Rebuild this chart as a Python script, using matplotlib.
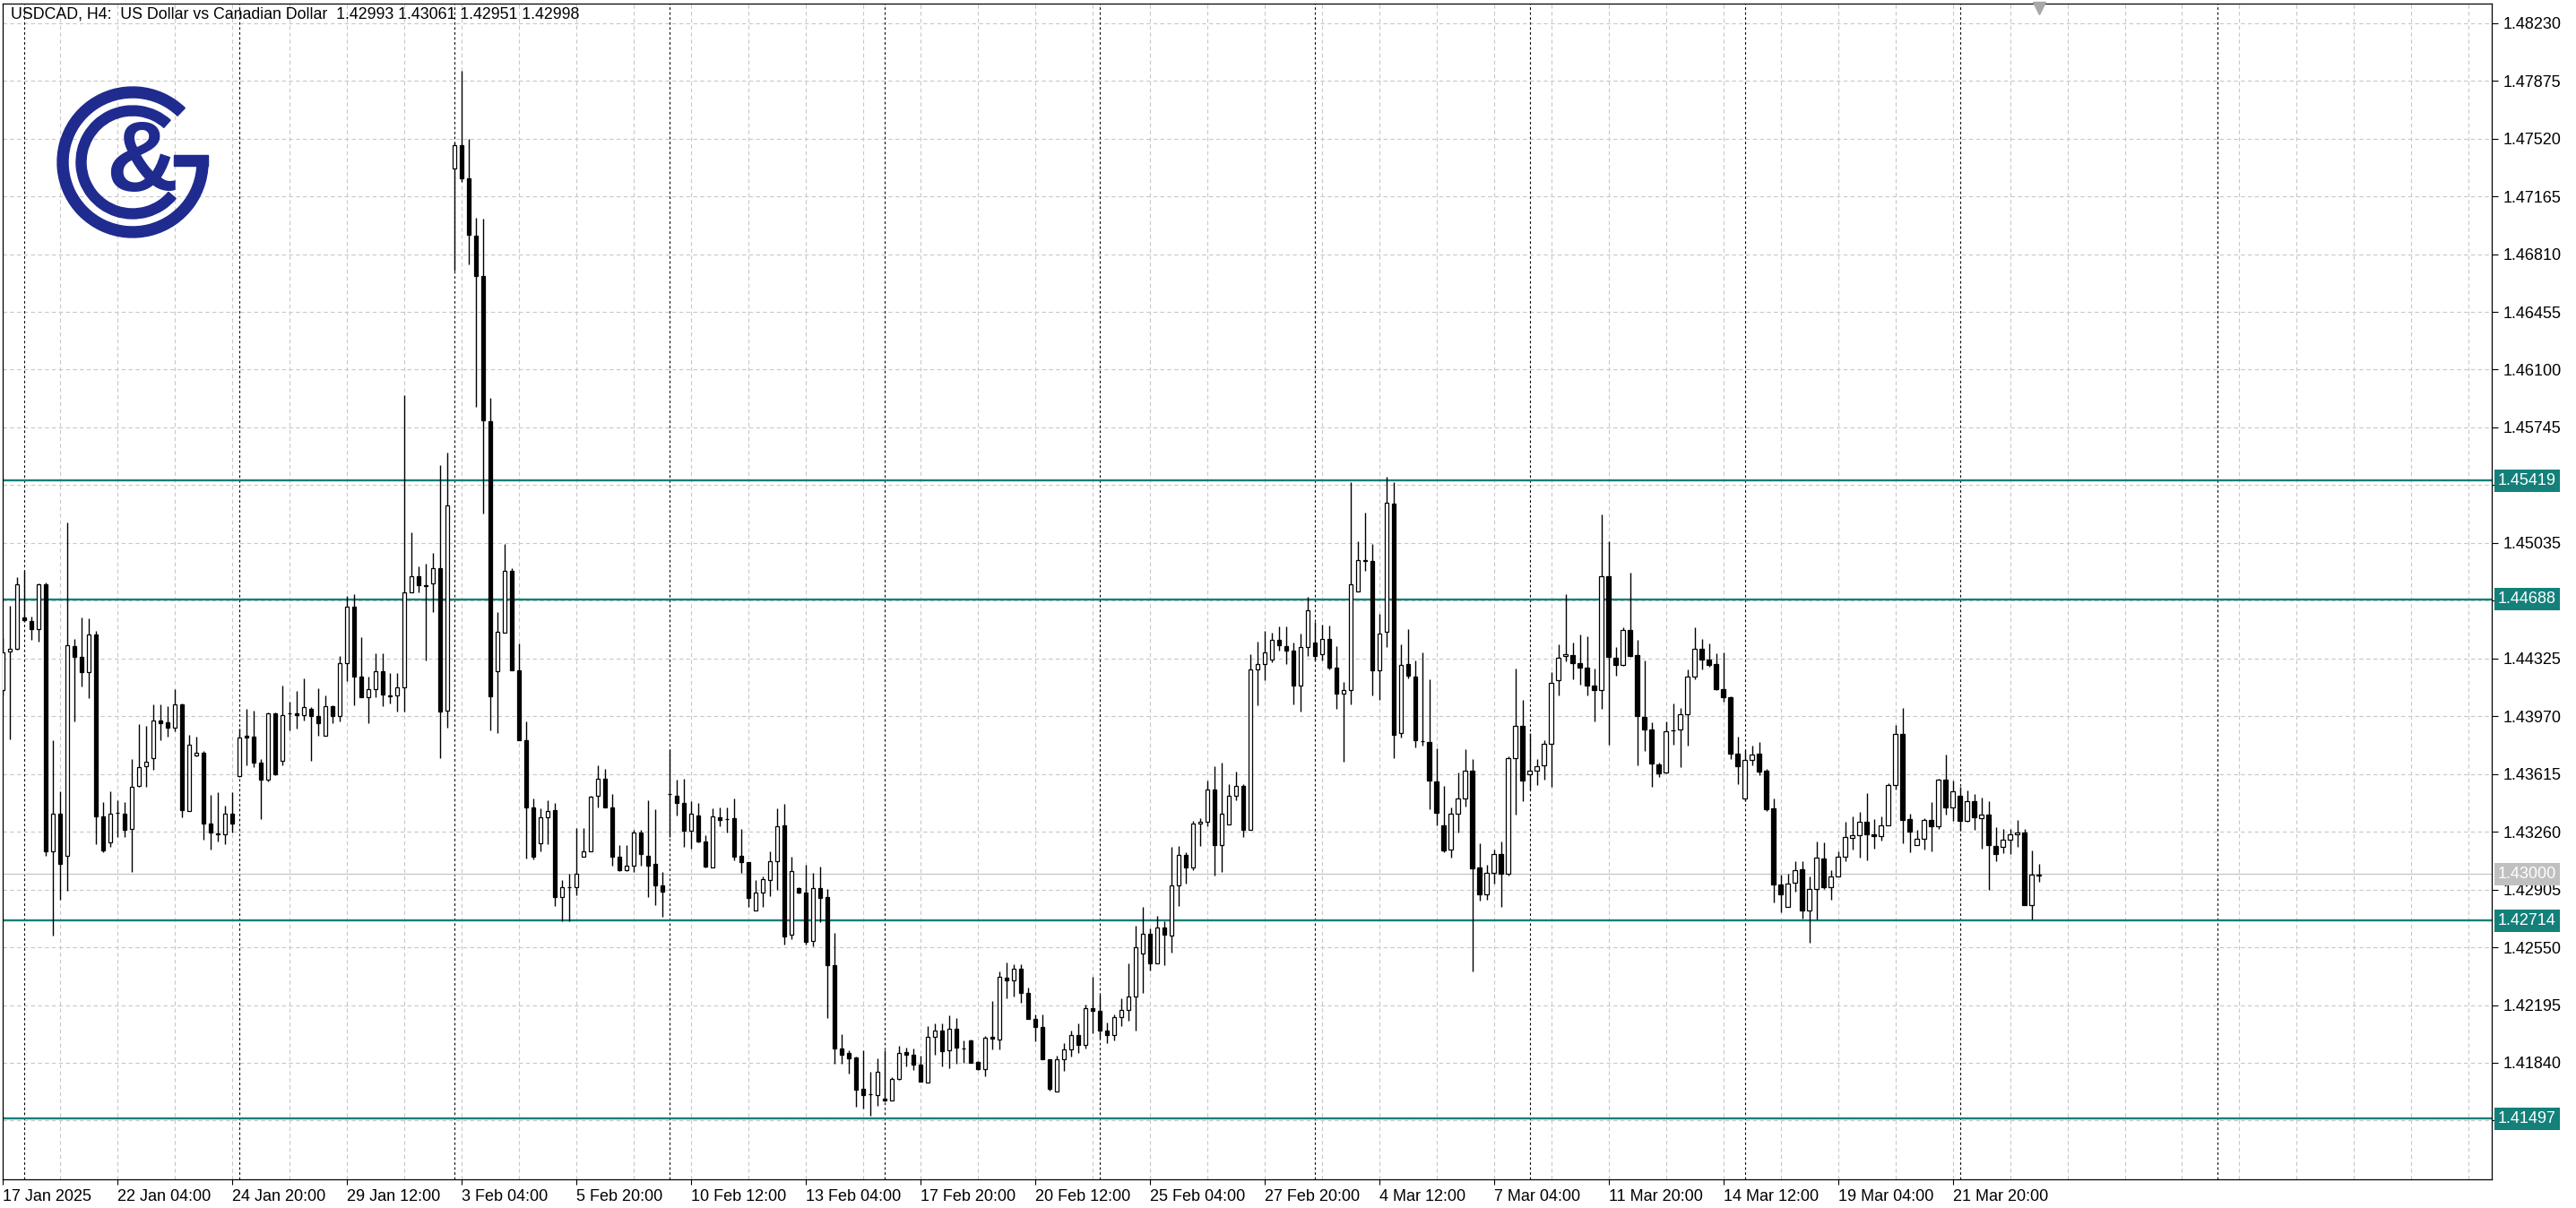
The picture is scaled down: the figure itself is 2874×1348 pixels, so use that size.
import matplotlib
matplotlib.use("Agg")
import matplotlib.pyplot as plt
from matplotlib.patches import Wedge, Rectangle
import matplotlib.transforms as mtransforms

plt.rcParams['font.family'] = ['Liberation Sans', 'DejaVu Sans']

title = "USDCAD, H4:  US Dollar vs Canadian Dollar  1.42993 1.43061 1.42951 1.42998"

# H4 candles, index 0 = 17 Jan 2025 12:00
opens = [
    1.44131, 1.44367, 1.44384, 1.44576, 1.44556, 1.44503, 1.44781, 1.43142, 1.43373, 1.43110,
    1.44399, 1.44333, 1.44242, 1.44471, 1.43354, 1.43195, 1.43374, 1.43373, 1.43280, 1.43543,
    1.43662, 1.43713, 1.43943, 1.43934, 1.43898, 1.44043, 1.43388, 1.43728, 1.43747, 1.43312,
    1.43252, 1.43242, 1.43373, 1.43605, 1.43849, 1.43845, 1.43686, 1.43581, 1.43989, 1.43696,
    1.43987, 1.43987, 1.43977, 1.44015, 1.43974, 1.43851, 1.44034, 1.43970, 1.44295, 1.44645,
    1.44216, 1.44086, 1.44139, 1.44244, 1.44099, 1.44096, 1.44146, 1.44734, 1.44832, 1.44776,
    1.44786, 1.44881, 1.44006, 1.47334, 1.47481, 1.47278, 1.46921, 1.46676, 1.45784, 1.44244,
    1.44482, 1.44863, 1.44251, 1.43824, 1.43411, 1.43187, 1.43348, 1.43393, 1.42861, 1.42921,
    1.42921, 1.43106, 1.43141, 1.43481, 1.43586, 1.43411, 1.43106, 1.43026, 1.43054, 1.43253,
    1.43114, 1.43061, 1.42931, 1.43491, 1.43481, 1.43439, 1.43264, 1.43362, 1.43201, 1.43039,
    1.43351, 1.43338, 1.43342, 1.43112, 1.43072, 1.42778, 1.42885, 1.42966, 1.43081, 1.43298,
    1.42626, 1.42916, 1.42885, 1.42589, 1.42916, 1.42857, 1.42442, 1.41928, 1.41901, 1.41873,
    1.41680, 1.41647, 1.41644, 1.41618, 1.41607, 1.41741, 1.41904, 1.41888, 1.41827, 1.41717,
    1.41998, 1.42040, 1.41915, 1.42048, 1.41930, 1.41976, 1.41846, 1.41800, 1.41998, 1.41985,
    1.42365, 1.42347, 1.42420, 1.42268, 1.42112, 1.42062, 1.41860, 1.41664, 1.41860, 1.41920,
    1.42010, 1.41950, 1.42178, 1.42160, 1.42040, 1.42010, 1.42121, 1.42166, 1.42246, 1.42514,
    1.42632, 1.42450, 1.42673, 1.42621, 1.42928, 1.43117, 1.43042, 1.43310, 1.43321, 1.43519,
    1.43178, 1.43303, 1.43481, 1.43542, 1.43274, 1.44258, 1.44292, 1.44320, 1.44440, 1.44402,
    1.44372, 1.44156, 1.44395, 1.44422, 1.44349, 1.44447, 1.44270, 1.44110, 1.44133, 1.44736,
    1.44929, 1.44925, 1.44254, 1.44490, 1.45277, 1.43865, 1.44289, 1.44215, 1.43817, 1.43813,
    1.43567, 1.43302, 1.43149, 1.43372, 1.43462, 1.43637, 1.43043, 1.42875, 1.43009, 1.43125,
    1.43003, 1.43711, 1.43912, 1.43613, 1.43633, 1.43667, 1.43803, 1.44189, 1.44339, 1.44345,
    1.44299, 1.44271, 1.44156, 1.44132, 1.44830, 1.44331, 1.44285, 1.44499, 1.44345, 1.43966,
    1.43886, 1.43673, 1.43627, 1.43882, 1.43886, 1.43980, 1.44215, 1.44385, 1.44319, 1.44289,
    1.44136, 1.44086, 1.43741, 1.43462, 1.43701, 1.43742, 1.43636, 1.43402, 1.42938, 1.42797,
    1.42949, 1.43032, 1.42778, 1.42907, 1.43094, 1.42921, 1.42984, 1.43109, 1.43224, 1.43237,
    1.43320, 1.43243, 1.43232, 1.43302, 1.43546, 1.43862, 1.43338, 1.43177, 1.43215, 1.43335,
    1.43296, 1.43581, 1.43408, 1.43480, 1.43325, 1.43448, 1.43342, 1.43366, 1.43173, 1.43167,
    1.43210, 1.43243, 1.43256, 1.42811, 1.42993,
]
highs = [
    1.44450, 1.44650, 1.44824, 1.44862, 1.44582, 1.44786, 1.44790, 1.43822, 1.43509, 1.45159,
    1.44446, 1.44578, 1.44573, 1.44493, 1.43444, 1.43511, 1.43454, 1.43441, 1.43709, 1.43921,
    1.43911, 1.44045, 1.44045, 1.44030, 1.44138, 1.44050, 1.43856, 1.43847, 1.43756, 1.43488,
    1.43501, 1.43422, 1.43501, 1.43894, 1.44017, 1.44006, 1.43705, 1.43993, 1.43995, 1.44159,
    1.44059, 1.44125, 1.44204, 1.44027, 1.44140, 1.44097, 1.44040, 1.44342, 1.44711, 1.44720,
    1.44454, 1.44216, 1.44356, 1.44356, 1.44233, 1.44233, 1.45941, 1.45101, 1.44891, 1.44909,
    1.44972, 1.45511, 1.45591, 1.47498, 1.47936, 1.47516, 1.47033, 1.47026, 1.45924, 1.44611,
    1.45031, 1.44881, 1.44419, 1.43936, 1.43463, 1.43404, 1.43456, 1.43439, 1.42966, 1.43001,
    1.43281, 1.43281, 1.43481, 1.43666, 1.43649, 1.43491, 1.43176, 1.43176, 1.43271, 1.43271,
    1.43456, 1.43396, 1.43012, 1.43761, 1.43579, 1.43586, 1.43446, 1.43439, 1.43237, 1.43406,
    1.43412, 1.43412, 1.43467, 1.43278, 1.43072, 1.42962, 1.42984, 1.43140, 1.43406, 1.43430,
    1.43109, 1.42920, 1.43057, 1.43008, 1.43048, 1.42907, 1.42641, 1.42016, 1.41915, 1.41880,
    1.41915, 1.41787, 1.41869, 1.41915, 1.41750, 1.41943, 1.41934, 1.41930, 1.41882, 1.42066,
    1.42084, 1.42084, 1.42132, 1.42114, 1.41980, 1.41985, 1.41850, 1.42007, 1.42218, 1.42402,
    1.42457, 1.42444, 1.42448, 1.42305, 1.42136, 1.42136, 1.41860, 1.41882, 1.41960, 1.42040,
    1.42080, 1.42200, 1.42371, 1.42257, 1.42090, 1.42140, 1.42234, 1.42450, 1.42682, 1.42796,
    1.42666, 1.42741, 1.42712, 1.43167, 1.43174, 1.43133, 1.43326, 1.43342, 1.43576, 1.43662,
    1.43683, 1.43553, 1.43628, 1.43553, 1.44349, 1.44429, 1.44492, 1.44481, 1.44520, 1.44524,
    1.44424, 1.44479, 1.44706, 1.44547, 1.44531, 1.44527, 1.44399, 1.44183, 1.45407, 1.45047,
    1.45220, 1.45031, 1.44599, 1.45441, 1.45411, 1.44411, 1.44505, 1.44311, 1.44365, 1.44195,
    1.43773, 1.43541, 1.43412, 1.43627, 1.43767, 1.43707, 1.43188, 1.43059, 1.43149, 1.43198,
    1.43721, 1.44265, 1.44072, 1.43866, 1.43707, 1.43821, 1.44239, 1.44411, 1.44720, 1.44425,
    1.44471, 1.44459, 1.44265, 1.45212, 1.45043, 1.44395, 1.44519, 1.44850, 1.44439, 1.44315,
    1.43932, 1.43687, 1.43936, 1.44046, 1.44020, 1.44255, 1.44515, 1.44445, 1.44415, 1.44355,
    1.44365, 1.44090, 1.43847, 1.43761, 1.43787, 1.43812, 1.43645, 1.43463, 1.42999, 1.43002,
    1.43081, 1.43081, 1.42986, 1.43201, 1.43195, 1.43026, 1.43140, 1.43320, 1.43353, 1.43384,
    1.43498, 1.43338, 1.43357, 1.43559, 1.43917, 1.44021, 1.43371, 1.43274, 1.43344, 1.43443,
    1.43586, 1.43737, 1.43577, 1.43535, 1.43513, 1.43491, 1.43470, 1.43448, 1.43287, 1.43278,
    1.43280, 1.43335, 1.43278, 1.43146, 1.43061,
]
lows = [
    1.44100, 1.43828, 1.44380, 1.44550, 1.44437, 1.44431, 1.43114, 1.42622, 1.42840, 1.42900,
    1.43940, 1.44153, 1.44081, 1.43184, 1.43133, 1.43170, 1.43227, 1.43227, 1.43015, 1.43535,
    1.43539, 1.43643, 1.43822, 1.43845, 1.43875, 1.43350, 1.43385, 1.43725, 1.43212, 1.43151,
    1.43199, 1.43184, 1.43255, 1.43599, 1.43666, 1.43656, 1.43340, 1.43567, 1.43610, 1.43671,
    1.43883, 1.43894, 1.43945, 1.43694, 1.43851, 1.43851, 1.43926, 1.43940, 1.44185, 1.44040,
    1.44086, 1.43929, 1.44086, 1.44034, 1.44051, 1.43999, 1.43999, 1.44730, 1.44734, 1.44314,
    1.44611, 1.43712, 1.43901, 1.46711, 1.47254, 1.46746, 1.45871, 1.45217, 1.43883, 1.43866,
    1.44482, 1.44250, 1.43820, 1.43096, 1.43089, 1.43141, 1.43183, 1.42802, 1.42711, 1.42711,
    1.42872, 1.43106, 1.43141, 1.43411, 1.43411, 1.43054, 1.43019, 1.43019, 1.43012, 1.43054,
    1.42861, 1.42809, 1.42739, 1.43229, 1.43362, 1.43166, 1.43159, 1.43194, 1.43040, 1.43039,
    1.43296, 1.43256, 1.43087, 1.43008, 1.42797, 1.42778, 1.42800, 1.42866, 1.42903, 1.42567,
    1.42598, 1.42879, 1.42567, 1.42554, 1.42705, 1.42114, 1.41833, 1.41833, 1.41772, 1.41570,
    1.41557, 1.41515, 1.41576, 1.41603, 1.41607, 1.41736, 1.41820, 1.41796, 1.41723, 1.41717,
    1.41888, 1.41820, 1.41805, 1.41833, 1.41842, 1.41842, 1.41798, 1.41759, 1.41925, 1.41925,
    1.42237, 1.42246, 1.42209, 1.42112, 1.41970, 1.41860, 1.41667, 1.41664, 1.41790, 1.41880,
    1.41900, 1.41930, 1.42020, 1.41990, 1.41960, 1.41980, 1.42064, 1.42098, 1.42040, 1.42268,
    1.42405, 1.42450, 1.42439, 1.42519, 1.42803, 1.42939, 1.43023, 1.43174, 1.43296, 1.42992,
    1.43014, 1.43303, 1.43455, 1.43228, 1.43274, 1.44038, 1.44190, 1.44304, 1.44372, 1.44292,
    1.44042, 1.44001, 1.44338, 1.44311, 1.44311, 1.44258, 1.44015, 1.43690, 1.44042, 1.44736,
    1.44861, 1.44099, 1.44069, 1.44395, 1.43712, 1.43838, 1.44201, 1.43777, 1.43787, 1.43398,
    1.43302, 1.43135, 1.43099, 1.43258, 1.43414, 1.42401, 1.42836, 1.42844, 1.42939, 1.42800,
    1.42989, 1.43368, 1.43448, 1.43518, 1.43548, 1.43581, 1.43534, 1.44096, 1.44305, 1.44199,
    1.44165, 1.44100, 1.43940, 1.44016, 1.43793, 1.44219, 1.44279, 1.44335, 1.43667, 1.43757,
    1.43537, 1.43597, 1.43617, 1.43797, 1.43657, 1.43787, 1.44195, 1.44259, 1.44275, 1.44132,
    1.44060, 1.43707, 1.43554, 1.43448, 1.43667, 1.43608, 1.43388, 1.42828, 1.42764, 1.42797,
    1.42894, 1.42729, 1.42580, 1.42720, 1.42907, 1.42843, 1.42984, 1.43081, 1.43151, 1.43103,
    1.43085, 1.43158, 1.43206, 1.43302, 1.43522, 1.43191, 1.43136, 1.43177, 1.43149, 1.43140,
    1.43279, 1.43366, 1.43329, 1.43265, 1.43320, 1.43270, 1.43158, 1.42901, 1.43078, 1.43131,
    1.43122, 1.43167, 1.42811, 1.42720, 1.42951,
]
closes = [
    1.44361, 1.44387, 1.44781, 1.44559, 1.44503, 1.44781, 1.43138, 1.43373, 1.43061, 1.44405,
    1.44333, 1.44242, 1.44474, 1.43354, 1.43146, 1.43373, 1.43378, 1.43274, 1.43539, 1.43658,
    1.43690, 1.43943, 1.43926, 1.43898, 1.44043, 1.43393, 1.43794, 1.43743, 1.43312, 1.43255,
    1.43242, 1.43373, 1.43308, 1.43841, 1.43841, 1.43684, 1.43581, 1.43989, 1.43615, 1.43977,
    1.43990, 1.43977, 1.44027, 1.43974, 1.43926, 1.44034, 1.43970, 1.44295, 1.44645, 1.44216,
    1.44086, 1.44139, 1.44244, 1.44104, 1.44093, 1.44146, 1.44734, 1.44832, 1.44776, 1.44772,
    1.44881, 1.43999, 1.45266, 1.47481, 1.47278, 1.46928, 1.46676, 1.45791, 1.44093, 1.44489,
    1.44863, 1.44251, 1.43824, 1.43411, 1.43106, 1.43351, 1.43386, 1.42861, 1.42921, 1.42921,
    1.43001, 1.43141, 1.43474, 1.43586, 1.43411, 1.43106, 1.43026, 1.43054, 1.43253, 1.43124,
    1.43054, 1.42931, 1.42893, 1.43494, 1.43439, 1.43264, 1.43369, 1.43201, 1.43047, 1.43353,
    1.43333, 1.43336, 1.43105, 1.43072, 1.42852, 1.42885, 1.42967, 1.43081, 1.43292, 1.42619,
    1.43017, 1.42888, 1.42585, 1.42916, 1.42855, 1.42442, 1.41928, 1.41891, 1.41869, 1.41677,
    1.41644, 1.41645, 1.41783, 1.41607, 1.41741, 1.41902, 1.41888, 1.41827, 1.41723, 1.41998,
    1.42040, 1.41912, 1.42048, 1.41934, 1.41928, 1.41842, 1.41800, 1.41992, 1.41989, 1.42371,
    1.42347, 1.42420, 1.42268, 1.42112, 1.42062, 1.41860, 1.41680, 1.41860, 1.41920, 1.42010,
    1.41950, 1.42178, 1.42160, 1.42040, 1.42010, 1.42121, 1.42166, 1.42246, 1.42553, 1.42632,
    1.42450, 1.42673, 1.42626, 1.42932, 1.43117, 1.43042, 1.43310, 1.43321, 1.43519, 1.43178,
    1.43371, 1.43481, 1.43542, 1.43274, 1.44258, 1.44292, 1.44365, 1.44440, 1.44406, 1.44372,
    1.44156, 1.44395, 1.44622, 1.44342, 1.44445, 1.44270, 1.44110, 1.44133, 1.44781, 1.44929,
    1.44922, 1.44254, 1.44479, 1.45281, 1.43856, 1.44288, 1.44219, 1.43821, 1.43815, 1.43573,
    1.43374, 1.43143, 1.43372, 1.43462, 1.43633, 1.43035, 1.42875, 1.43009, 1.43125, 1.43003,
    1.43711, 1.43912, 1.43573, 1.43633, 1.43661, 1.43803, 1.44175, 1.44331, 1.44349, 1.44299,
    1.44271, 1.44160, 1.44132, 1.44830, 1.44335, 1.44285, 1.44499, 1.44339, 1.43970, 1.43886,
    1.43677, 1.43621, 1.43876, 1.43882, 1.43980, 1.44215, 1.44385, 1.44319, 1.44285, 1.44136,
    1.44086, 1.43741, 1.43661, 1.43701, 1.43733, 1.43632, 1.43399, 1.42938, 1.42874, 1.42944,
    1.43026, 1.42778, 1.42907, 1.43100, 1.42921, 1.42984, 1.43109, 1.43228, 1.43237, 1.43320,
    1.43246, 1.43232, 1.43302, 1.43549, 1.43862, 1.43335, 1.43259, 1.43215, 1.43335, 1.43296,
    1.43581, 1.43408, 1.43507, 1.43325, 1.43448, 1.43347, 1.43366, 1.43177, 1.43122, 1.43210,
    1.43243, 1.43256, 1.42811, 1.42995, 1.42998,
]

date_labels = [
    "17 Jan 2025", "22 Jan 04:00", "24 Jan 20:00", "29 Jan 12:00", "3 Feb 04:00",
    "5 Feb 20:00", "10 Feb 12:00", "13 Feb 04:00", "17 Feb 20:00", "20 Feb 12:00",
    "25 Feb 04:00", "27 Feb 20:00", "4 Mar 12:00", "7 Mar 04:00", "11 Mar 20:00",
    "14 Mar 12:00", "19 Mar 04:00", "21 Mar 20:00",
]
date_label_bars = [0, 16, 32, 48, 64, 80, 96, 112, 128, 144, 160, 176, 192, 208, 224, 240, 256, 272]
week_separators = [3, 33, 63, 93, 123, 153, 183, 213, 243, 273, 309]

price_ticks = [1.48230, 1.47875, 1.47520, 1.47165, 1.46810, 1.46455, 1.46100, 1.45745,
               1.45390, 1.45035, 1.44680, 1.44325, 1.43970, 1.43615, 1.43260, 1.42905,
               1.42550, 1.42195, 1.41840, 1.41485]
# these three sit under the level boxes on the price scale
covered_ticks = [1.45390, 1.44680, 1.41485]
levels = [1.45419, 1.44688, 1.42714, 1.41497]
bid_price = 1.43000

W, H = 2874, 1348
fig = plt.figure(figsize=(W / 100, H / 100), dpi=100)
ax = fig.add_axes([2.7 / W, 1 - 1316 / H, (2780 - 2.7) / W, (1316 - 3.6) / H])
ax.set_xlim(-0.05, 347.2)
ax.set_ylim(1.41124, 1.48352)

teal = '#13807a'
grid_c = '#c8c8c8'

# grid
for p in price_ticks:
    ax.axhline(p, color=grid_c, lw=0.8, ls=(0, (4, 3)), zorder=0)
for b in range(8, 347, 8):
    ax.axvline(b, color=grid_c, lw=0.8, ls=(0, (4, 3)), zorder=0)
for b in week_separators:
    ax.axvline(b, color='black', lw=0.8, ls=(0, (2.5, 2.5)), zorder=0.5)

# levels
for lv in levels:
    ax.axhline(lv, color=teal, lw=1.7, zorder=1)
ax.axhline(bid_price, color='#c0c0c0', lw=0.8, zorder=1)

# candles
n = len(opens)
xs = list(range(n))
ax.vlines(xs, lows, highs, color='black', lw=1.0, zorder=2)
bottoms = [min(o, c) for o, c in zip(opens, closes)]
heights = [max(abs(c - o), 0.000005) for o, c in zip(opens, closes)]
faces = ['white' if c >= o else 'black' for o, c in zip(opens, closes)]
ax.bar(xs, heights, bottom=bottoms, width=0.55, color=faces, edgecolor='black',
       linewidth=0.9, zorder=3)

# axes styling
for s in ax.spines.values():
    s.set_color('black')
    s.set_linewidth(0.9)
ax.yaxis.tick_right()
ax.set_yticks(price_ticks)
ax.set_yticklabels(["" if p in covered_ticks else f"{p:.5f}" for p in price_ticks])
ax.tick_params(axis='y', length=5, width=0.8, pad=4, labelsize=13, colors='black')
ax.set_xticks(date_label_bars)
ax.set_xticklabels(date_labels)
for lab in ax.get_xticklabels():
    lab.set_horizontalalignment('left')
ax.tick_params(axis='x', length=4, width=0.8, pad=4, labelsize=13, colors='black')

# right side price boxes
trans = mtransforms.blended_transform_factory(ax.transAxes, ax.transData)
for lv in levels:
    ax.text(1.0025, lv, f"{lv:.5f}", transform=trans, ha='left', va='center', fontsize=13,
            color='white', zorder=10, clip_on=False,
            bbox=dict(boxstyle='square,pad=0.22', fc=teal, ec='none'))
ax.text(1.0025, bid_price, f"{bid_price:.5f}", transform=trans, ha='left', va='center',
        fontsize=13, color='white', zorder=10, clip_on=False,
        bbox=dict(boxstyle='square,pad=0.22', fc='#c0c0c0', ec='none'))

# title
ax.text(0.0035, 0.997, title, transform=ax.transAxes, ha='left', va='top', fontsize=12.8,
        color='black', zorder=11)

# chart shift marker
tr2 = mtransforms.blended_transform_factory(ax.transData, ax.transAxes)
ax.plot([n - 1], [0.996], marker='v', ms=10, color='#a8a8a8', transform=tr2,
        clip_on=False, zorder=12)

# logo
navy = '#1f2b8e'
lax = fig.add_axes([55 / W, 1 - 272 / H, 190 / W, 190 / H])
lax.set_xlim(0, 190)
lax.set_ylim(0, 190)
lax.axis('off')
cx, cy = 93, 91
lax.add_patch(Wedge((cx, cy), 84, 46, 364, width=12, color=navy))
lax.add_patch(Rectangle((cx + 46, cy - 4), 38, 12, color=navy))
lax.add_patch(Wedge((cx, cy), 63, 48, 320, width=11, color=navy))
lax.text(cx + 10, cy - 3, '&', fontsize=80, fontweight='bold', color=navy,
         ha='center', va='center', family=['Liberation Sans', 'DejaVu Sans'])

fig.savefig('out.png', dpi=100, facecolor='white')
